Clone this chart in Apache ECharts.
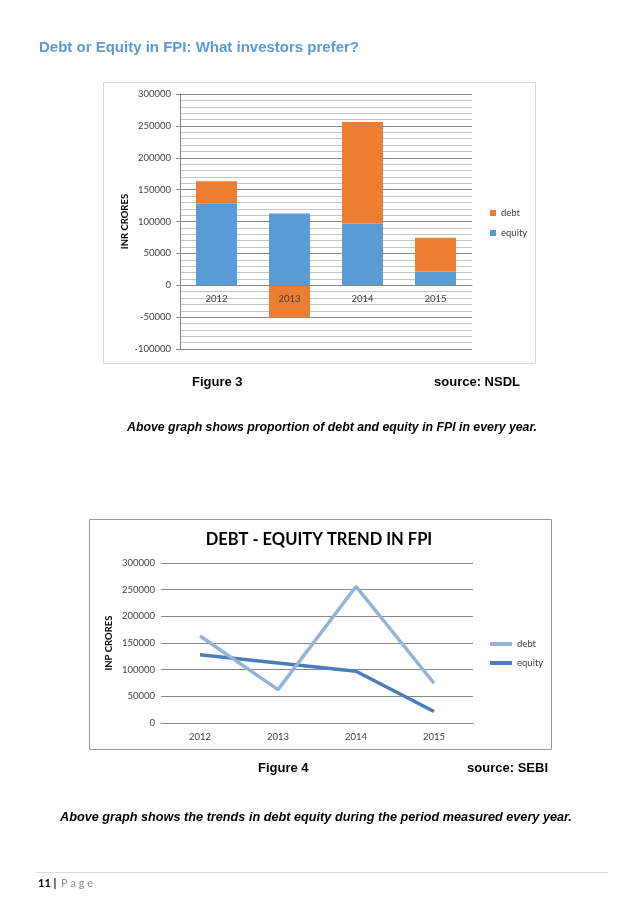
<!DOCTYPE html>
<html><head><meta charset="utf-8">
<script src="https://cdn.jsdelivr.net/npm/echarts@6/dist/echarts.min.js"></script>
<style>html,body{margin:0;padding:0;background:#fff}#c{width:638px;height:903px}</style>
</head><body><div id="c"></div>
<script>
// ---- data ----
const years = ['2012', '2013', '2014', '2015'];
const equity = [128000, 112500, 97000, 21500];
const debt = [35000, -50000, 159000, 53000];
// axis ranges
const topAxis = { min: -100000, max: 300000, interval: 50000 };
const bottomAxis = { min: 0, max: 300000, interval: 50000 };

const ARIAL = '"Liberation Sans", Arial, sans-serif';
const CAL = 'Lato, "Open Sans", sans-serif';
const AX = '#868686';
const LBL = '#404040';

const topGrid = { left: 180, top: 94, width: 292, height: 255 };
const botGrid = { left: 161, top: 563, width: 312, height: 160 };
// place the category axis of the top chart on the zero line
const zeroOffset = -topGrid.height * (0 - topAxis.min) / (topAxis.max - topAxis.min);

const chart = echarts.init(document.getElementById('c'), null, { renderer: 'canvas' });

function txt(text, x, y, font, fill, align) {
  return { type: 'text', x: x, y: y, style: { text: text, font: font, fill: fill || '#000', textAlign: align || 'left', textVerticalAlign: 'middle' } };
}
const plain = function (v) { return String(v); };

chart.setOption({
  animation: false,
  backgroundColor: '#fff',
  grid: [topGrid, botGrid],
  legend: [
    {
      data: ['debt', 'equity'], orient: 'vertical', left: 485, top: 203,
      itemWidth: 6, itemHeight: 6, itemGap: 10, icon: 'rect',
      textStyle: { fontFamily: CAL, fontSize: 9.5, color: LBL }
    },
    {
      data: ['debt ', 'equity '], orient: 'vertical', left: 485, top: 634,
      itemWidth: 22, itemHeight: 4, itemGap: 9, icon: 'rect',
      textStyle: { fontFamily: CAL, fontSize: 9.5, color: LBL }
    }
  ],
  xAxis: [
    {
      gridIndex: 0, type: 'category', data: years, z: 10, offset: zeroOffset,
      axisLine: { onZero: false, lineStyle: { color: AX, width: 1 } },
      axisTick: { show: false },
      axisLabel: { margin: 9, fontFamily: CAL, fontSize: 9.5, color: LBL }
    },
    {
      gridIndex: 1, type: 'category', data: years,
      axisLine: { lineStyle: { color: AX, width: 1 } },
      axisTick: { show: false },
      axisLabel: { margin: 9, fontFamily: CAL, fontSize: 9.5, color: LBL }
    }
  ],
  yAxis: [
    {
      gridIndex: 0, type: 'value', min: topAxis.min, max: topAxis.max, interval: topAxis.interval,
      name: 'INR CRORES', nameLocation: 'middle', nameGap: 50,
      nameTextStyle: { fontFamily: CAL, fontSize: 9.5, fontWeight: 'bold', color: '#000' },
      axisLine: { show: true, lineStyle: { color: AX } },
      axisTick: { show: true, length: 4, lineStyle: { color: AX } },
      axisLabel: { margin: 9, fontFamily: CAL, fontSize: 9.5, color: LBL, formatter: plain },
      splitLine: { show: true, lineStyle: { color: AX, width: 1 } },
      minorTick: { show: false, splitNumber: 5 },
      minorSplitLine: { show: true, lineStyle: { color: '#c4c4c4', width: 1 } }
    },
    {
      gridIndex: 1, type: 'value', min: bottomAxis.min, max: bottomAxis.max, interval: bottomAxis.interval,
      name: 'INP CRORES', nameLocation: 'middle', nameGap: 47,
      nameTextStyle: { fontFamily: CAL, fontSize: 9.5, fontWeight: 'bold', color: '#000' },
      axisLine: { show: false },
      axisTick: { show: false },
      axisLabel: { margin: 6, fontFamily: CAL, fontSize: 9.5, color: LBL, formatter: plain },
      splitLine: { show: true, lineStyle: { color: AX, width: 1 } }
    }
  ],
  series: [
    {
      name: 'equity', type: 'bar', xAxisIndex: 0, yAxisIndex: 0, stack: 'bars',
      data: equity, barWidth: 41, itemStyle: { color: '#5B9BD5' }
    },
    {
      name: 'debt', type: 'bar', xAxisIndex: 0, yAxisIndex: 0, stack: 'bars',
      data: debt, barWidth: 41, itemStyle: { color: '#ED7D31' }
    },
    {
      name: 'equity ', type: 'line', xAxisIndex: 1, yAxisIndex: 1, stack: 'lines', stackStrategy: 'all',
      data: equity, symbol: 'none', color: '#4A7EBB',
      lineStyle: { color: '#4A7EBB', width: 3.5 }
    },
    {
      name: 'debt ', type: 'line', xAxisIndex: 1, yAxisIndex: 1, stack: 'lines', stackStrategy: 'all',
      data: debt, symbol: 'none', color: '#95B3D7',
      lineStyle: { color: '#95B3D7', width: 3.5 }
    }
  ],
  graphic: [
    { type: 'rect', shape: { x: 103.5, y: 82.5, width: 432, height: 281 }, style: { fill: 'none', stroke: '#d9d9d9', lineWidth: 1 } },
    { type: 'rect', shape: { x: 89.5, y: 519.5, width: 462, height: 230 }, style: { fill: 'none', stroke: '#9a9a9a', lineWidth: 1 } },
    { type: 'line', shape: { x1: 36, y1: 872.5, x2: 608, y2: 872.5 }, style: { stroke: '#dcdcdc', lineWidth: 1 } },
    txt('Debt or Equity in FPI: What investors prefer?', 39, 48, 'bold 15px ' + ARIAL, '#5B9BD5'),
    txt('Figure 3', 192, 382, 'bold 13px ' + ARIAL),
    txt('source: NSDL', 520, 382, 'bold 13px ' + ARIAL, '#000', 'right'),
    txt('Above graph shows proportion of debt and equity in FPI in every year.', 127, 428, 'italic bold 12.3px ' + ARIAL),
    txt('DEBT - EQUITY TREND IN FPI', 319, 540, 'bold 16.5px ' + CAL, '#000', 'center'),
    txt('Figure 4', 258, 768, 'bold 13px ' + ARIAL),
    txt('source: SEBI', 548, 768, 'bold 13px ' + ARIAL, '#000', 'right'),
    txt('Above graph shows the trends in debt equity during the period measured every year.', 60, 817, 'italic bold 12.7px ' + ARIAL),
    txt('11 |', 38, 883, 'bold 11px ' + CAL),
    txt('P a g e', 61, 883, '11px ' + CAL, '#8c8c8c')
  ]
});
</script>
</body></html>
